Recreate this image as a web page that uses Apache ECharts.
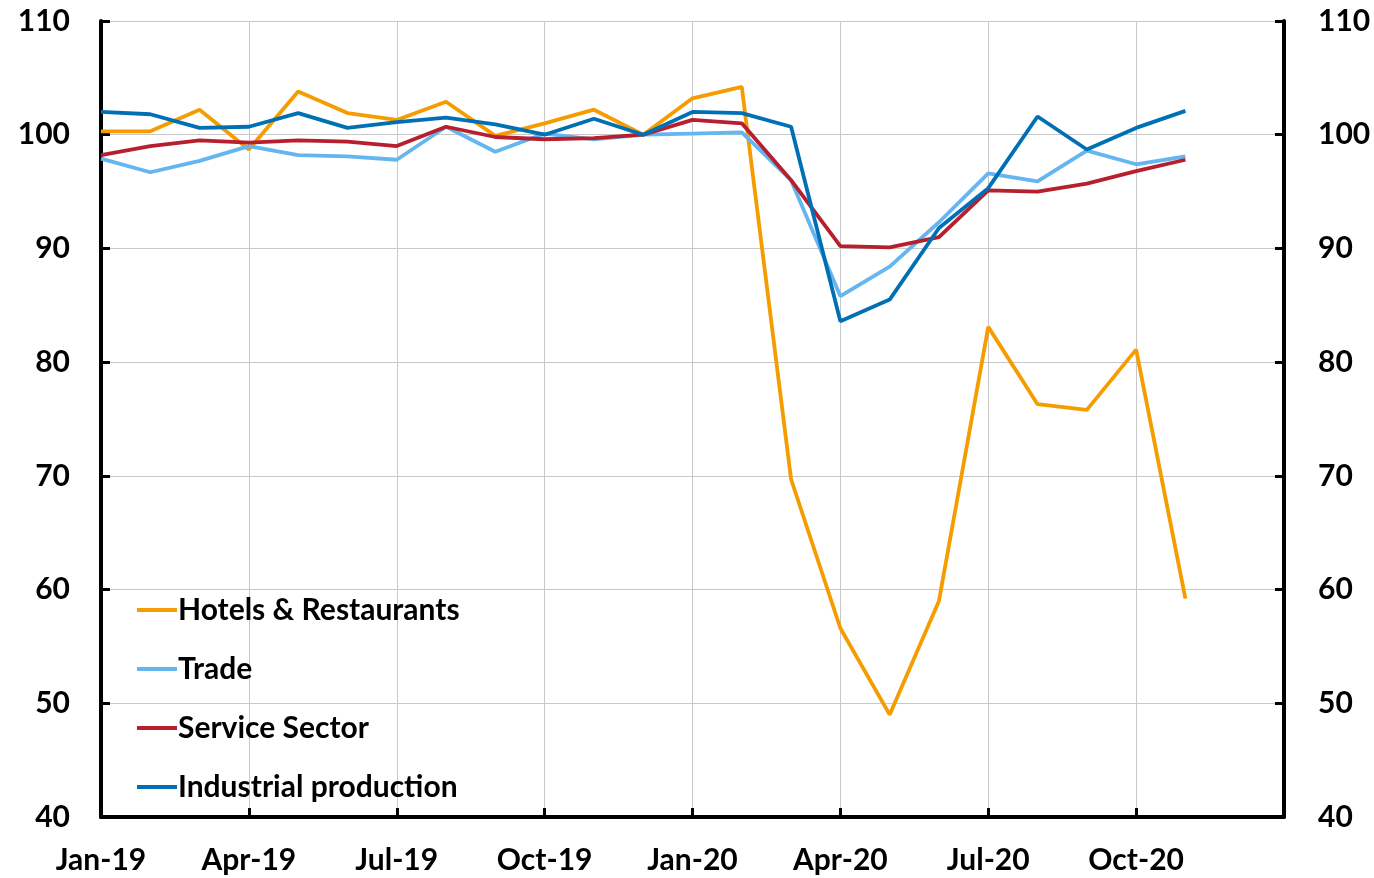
<!DOCTYPE html>
<html>
	<head>
		<meta charset="UTF-8">
		<title>Hotels, trade, services and industry</title>
		<style type="text/css">
			html, body{
				margin:0;
				padding:0;
				background:#fff;
			}
			#main{
				width:1374px;
				height:878px;
			}
		</style>
	</head>
	<body>
		<div id="main"></div>
		<script src="https://cdn.jsdelivr.net/npm/echarts@6/dist/echarts.min.js" type="text/javascript" charset="utf-8"></script>
		<script type="text/javascript">
			// months on the axis (Jan-21 only closes the axis, no data)
			var months = ['Jan-19','Feb-19','Mar-19','Apr-19','May-19','Jun-19','Jul-19','Aug-19','Sep-19','Oct-19','Nov-19','Dec-19',
				'Jan-20','Feb-20','Mar-20','Apr-20','May-20','Jun-20','Jul-20','Aug-20','Sep-20','Oct-20','Nov-20','Dec-20','Jan-21'];
			var hotels = [100.3,100.3,102.2,98.7,103.8,101.9,101.3,102.9,99.9,101.0,102.2,100.0,
				103.2,104.2,69.7,56.6,49.0,59.0,83.1,76.3,75.8,81.1,59.2];
			var trade = [97.9,96.7,97.7,99.0,98.2,98.1,97.8,100.7,98.5,100.1,99.6,100.0,
				100.1,100.2,96.0,85.8,88.4,92.3,96.6,95.9,98.6,97.4,98.1];
			var services = [98.2,99.0,99.5,99.3,99.5,99.4,99.0,100.7,99.8,99.6,99.7,100.0,
				101.3,101.0,96.0,90.2,90.1,91.0,95.1,95.0,95.7,96.8,97.8];
			var industry = [102.0,101.8,100.6,100.7,101.9,100.6,101.1,101.5,100.9,100.0,101.4,100.0,
				102.0,101.9,100.7,83.6,85.5,91.8,95.3,101.6,98.7,100.6,102.1];

			var myChart = echarts.init(document.getElementById("main"));
			var font = 'Lato, "Open Sans", sans-serif';

			function yAxisCfg(pos){
				return {
					type:'value',
					position:pos,
					min:40,
					max:110,
					interval:10,
					axisLine:{show:true, lineStyle:{color:'#000', width:4}},
					axisTick:{show:true, inside:true, length:9, lineStyle:{color:'#000', width:3}},
					axisLabel:{color:'#000', fontSize:30, fontWeight:'bold', fontFamily:font, margin:pos == 'left' ? 31 : 34},
					splitLine:{show:pos == 'left', lineStyle:{color:'#c8c8c8', width:1}}
				};
			}

			function line(name, color, data){
				return {
					name:name,
					type:'line',
					data:data,
					symbol:'none',
					lineStyle:{color:color, width:3.8},
					itemStyle:{color:color},
					animation:false
				};
			}

			var option = {
				animation:false,
				grid:{left:101, right:90, top:21, bottom:61, containLabel:false},
				legend:{
					orient:'vertical',
					left:132,
					top:590,
					itemWidth:40,
					itemHeight:4,
					itemGap:29,
					icon:'rect',
					textStyle:{color:'#000', fontSize:30, fontWeight:'bold', fontFamily:font, padding:[0,0,0,-4]},
					data:['Hotels & Restaurants','Trade','Service Sector','Industrial production']
				},
				xAxis:{
					type:'category',
					data:months,
					boundaryGap:false,
					axisLine:{lineStyle:{color:'#000', width:4}},
					axisTick:{inside:true, length:9, interval:2, lineStyle:{color:'#000', width:3}},
					axisLabel:{
						interval:2,
						color:'#000', fontSize:30, fontWeight:'bold', fontFamily:font, margin:28,
						formatter:function(v, i){ return i == months.length - 1 ? '' : v; }
					},
					splitLine:{show:true, interval:2, lineStyle:{color:'#c8c8c8', width:1}}
				},
				yAxis:[yAxisCfg('left'), yAxisCfg('right')],
				series:[
					line('Hotels & Restaurants', '#F59D00', hotels),
					line('Trade', '#64B5F0', trade),
					line('Service Sector', '#B81F2E', services),
					line('Industrial production', '#0070B5', industry)
				]
			};
			myChart.setOption(option);
		</script>
	</body>
</html>
